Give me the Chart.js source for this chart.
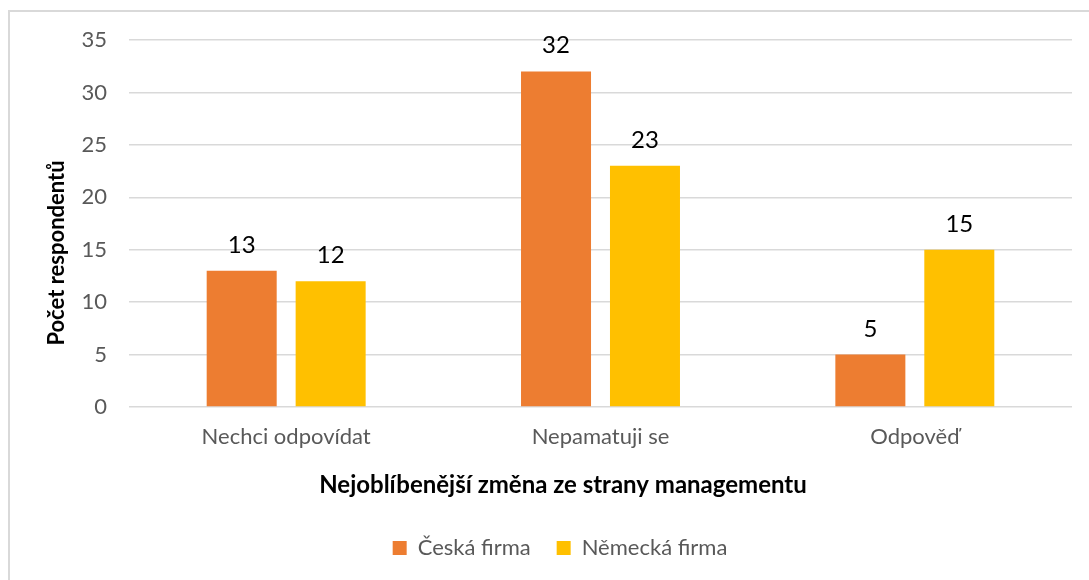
<!DOCTYPE html>
<html><head><meta charset="utf-8">
<script src="https://cdn.jsdelivr.net/npm/chart.js@4.4.0/dist/chart.umd.min.js"></script>
<style>html,body{margin:0;padding:0;background:#fff}#wrap{width:1089px;height:580px;position:relative}</style>
</head><body><div id="wrap"><canvas id="c" width="1089" height="580"></canvas></div>
<script>
const categories = ['Nechci odpovídat', 'Nepamatuji se', 'Odpověď'];
const seriesNames = ['Česká firma', 'Německá firma'];
const ceskaFirma = [13, 32, 5];
const nemeckaFirma = [12, 23, 15];
const yTicks = [0, 5, 10, 15, 20, 25, 30, 35];
const xTitle = 'Nejoblíbenější změna ze strany managementu';
const yTitle = 'Počet respondentů';

const FONT = 'Lato';

const decor = {
  id: 'decor',
  beforeDraw(chart) {
    const ctx = chart.ctx;
    ctx.save();
    ctx.strokeStyle = '#d9d9d9';
    ctx.lineWidth = 2;
    ctx.strokeRect(9, 11, 2000, 2000);
    ctx.restore();
  },
  afterDatasetsDraw(chart) {
    const ctx = chart.ctx;
    ctx.save();
    ctx.font = '24px ' + FONT;
    ctx.fillStyle = '#000';
    ctx.textAlign = 'center';
    ctx.textBaseline = 'alphabetic';
    chart.data.datasets.forEach((ds, i) => {
      const meta = chart.getDatasetMeta(i);
      meta.data.forEach((bar, j) => {
        ctx.fillText(String(ds.data[j]), bar.x, bar.y - 18);
      });
    });
    ctx.restore();
  },
  afterDraw(chart) {
    const ctx = chart.ctx;
    ctx.save();
    ctx.fillStyle = '#000';
    ctx.textAlign = 'center';
    ctx.textBaseline = 'middle';
    ctx.font = 'bold 24px ' + FONT;
    ctx.fillText(xTitle, 563, 485);
    ctx.font = 'bold 22px ' + FONT;
    ctx.translate(57, 253);
    ctx.rotate(-Math.PI / 2);
    ctx.fillText(yTitle, 0, 0);
    ctx.restore();
  }
};

new Chart(document.getElementById('c'), {
  type: 'bar',
  data: {
    labels: categories,
    datasets: [
      { label: seriesNames[0], data: ceskaFirma, backgroundColor: '#ED7D31', borderWidth: 0 },
      { label: seriesNames[1], data: nemeckaFirma, backgroundColor: '#FFC000', borderWidth: 0 }
    ]
  },
  options: {
    responsive: false,
    animation: false,
    devicePixelRatio: 1,
    categoryPercentage: 0.566,
    barPercentage: 0.787,
    layout: { padding: { left: 48, right: 17, top: 40, bottom: 11 } },
    plugins: {
      tooltip: { enabled: false },
      legend: {
        position: 'bottom',
        labels: {
          boxWidth: 14, boxHeight: 14, padding: 26,
          color: '#595959',
          font: { family: FONT, size: 22 }
        }
      }
    },
    scales: {
      x: {
        grid: { display: false, drawTicks: false },
        border: { display: false },
        ticks: { color: '#595959', font: { family: FONT, size: 22 }, padding: 17 },
        afterFit(s) { s.height = 104; }
      },
      y: {
        min: 0, max: 35,
        grid: { color: '#d9d9d9', lineWidth: 1.5, drawTicks: false },
        border: { display: false },
        ticks: { color: '#595959', font: { family: FONT, size: 22 }, padding: 22, stepSize: 5 },
        afterBuildTicks(s) { s.ticks = yTicks.map(v => ({ value: v })); },
        afterFit(s) { s.width = 81; }
      }
    }
  },
  plugins: [decor]
});
</script></body></html>
